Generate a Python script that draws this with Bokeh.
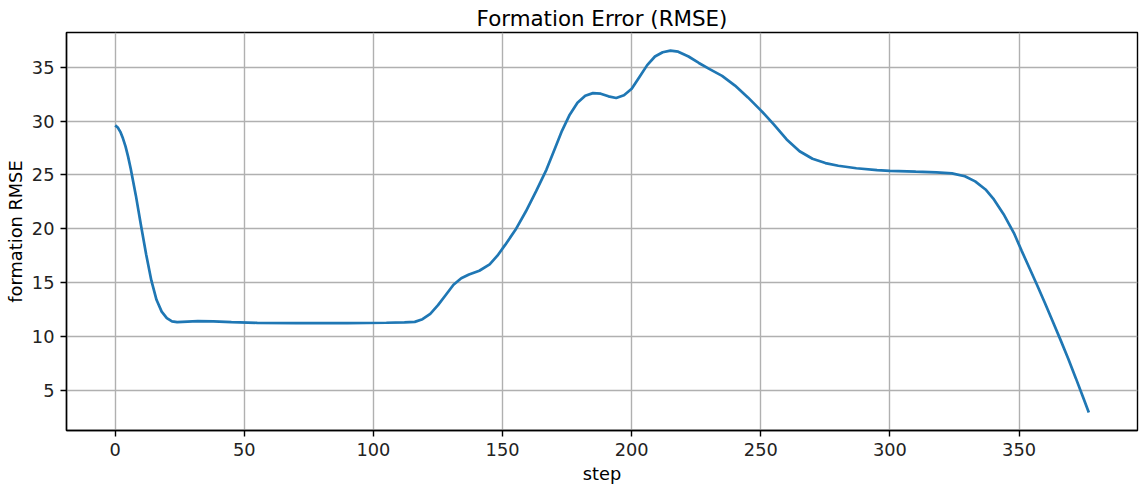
from bokeh.plotting import figure
from bokeh.models import Range1d, FixedTicker
from bokeh.embed import file_html
from bokeh.resources import INLINE

# Data
steps = [0, 1, 2, 3, 4, 5, 6, 8, 10, 12, 14, 16, 18, 20, 22, 24, 28, 32, 38, 45, 55,
         70, 90, 105, 112, 116, 119, 122, 125, 128, 131, 134, 137, 141, 145, 148, 151,
         155, 159, 163, 167, 170, 173, 176, 179, 182, 185, 188, 191, 194, 197, 200,
         203, 206, 209, 212, 215, 218, 222, 226, 230, 235, 240, 245, 250, 255, 260,
         265, 270, 275, 280, 287, 295, 300, 310, 318, 324, 329, 333, 337, 340, 344,
         348, 351, 354, 357, 360, 363, 366, 369, 372, 375, 377]
rmse = [29.6, 29.4, 29.0, 28.4, 27.65, 26.7, 25.6, 23.1, 20.3, 17.6, 15.2, 13.4, 12.3,
        11.7, 11.4, 11.33, 11.38, 11.42, 11.40, 11.32, 11.26,
        11.23, 11.24, 11.27, 11.30, 11.35, 11.6, 12.1, 12.9, 13.85, 14.8, 15.4, 15.75,
        16.1, 16.7, 17.5, 18.5,
        19.9, 21.6, 23.5, 25.5, 27.3, 29.1, 30.6, 31.7, 32.35, 32.6, 32.55, 32.3,
        32.15, 32.4, 33.0,
        34.1, 35.2, 36.0, 36.4, 36.55, 36.45, 36.0, 35.4, 34.85, 34.2, 33.3, 32.2,
        31.0, 29.7, 28.3,
        27.2, 26.5, 26.1, 25.85, 25.62, 25.45, 25.38, 25.3, 25.24, 25.15, 24.88, 24.4,
        23.65, 22.8, 21.35,
        19.6, 17.95, 16.35, 14.75, 13.1, 11.4, 9.7, 7.95, 6.1, 4.2, 2.94]
x_ticks = [0, 50, 100, 150, 200, 250, 300, 350]
y_ticks = [5, 10, 15, 20, 25, 30, 35]

title_text = "Formation Error (RMSE)"
x_label = "step"
y_label = "formation RMSE"

FONT = "DejaVu Sans"

xmin, xmax = min(steps), max(steps)
ymin, ymax = min(rmse), max(rmse)
xpad = 0.05 * (xmax - xmin)
ypad = 0.05 * (ymax - ymin)

p = figure(width=1143, height=491, output_backend="svg", toolbar_location=None,
           x_range=Range1d(xmin - xpad, xmax + xpad),
           y_range=Range1d(ymin - ypad, ymax + ypad),
           min_border_left=66, min_border_right=6, min_border_top=32,
           min_border_bottom=61)

p.line(steps, rmse, line_color="#1f77b4", line_width=2.7)

p.title.text = title_text
p.title.text_font = FONT
p.title.text_font_size = "21.4px"
p.title.text_font_style = "normal"
p.title.text_color = "black"
p.title.text_line_height = 1.0
p.title.align = "center"
p.title.vertical_align = "top"
p.title.standoff = 0

p.xaxis.ticker = FixedTicker(ticks=x_ticks)
p.yaxis.ticker = FixedTicker(ticks=y_ticks)
p.xaxis.axis_label = x_label
p.yaxis.axis_label = y_label

for ax in (p.xaxis, p.yaxis):
    ax.axis_label_text_font = FONT
    ax.axis_label_text_font_size = "17.8px"
    ax.axis_label_text_font_style = "normal"
    ax.axis_label_text_color = "black"
    ax.major_label_text_font = FONT
    ax.major_label_text_font_size = "17.8px"
    ax.major_label_text_color = "#222222"
    ax.major_tick_out = 6
    ax.major_tick_in = 0
    ax.minor_tick_out = 0
    ax.minor_tick_in = 0
    ax.axis_line_color = "black"
    ax.axis_line_width = 1.4
    ax.major_tick_line_color = "black"
    ax.major_tick_line_width = 1.4
    ax.major_label_standoff = 6

p.xaxis.axis_label_standoff = 4
p.yaxis.axis_label_standoff = 3

p.grid.grid_line_color = "#b0b0b0"
p.grid.grid_line_width = 1.4
p.outline_line_color = "black"
p.outline_line_width = 1.4
p.outline_line_alpha = 1.0

open("out.html", "w").write(file_html(p, INLINE))
